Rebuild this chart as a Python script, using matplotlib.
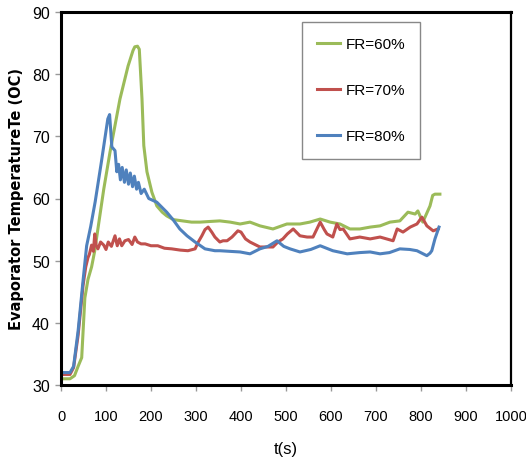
import matplotlib
matplotlib.use("Agg")
from matplotlib import pyplot as plt

# FR = 60 %
t_60 = [0, 20, 30, 38, 46, 53, 60, 68, 75, 82, 95, 109, 131, 149, 160, 164, 170, 174,
        180, 184, 191, 202, 213, 225, 235, 250, 270, 290, 309, 330, 353, 376, 398, 420,
        442, 471, 502, 531, 553, 576, 598, 620, 642, 664, 687, 709, 731, 753, 771, 787,
        793, 804, 812, 820, 826, 831, 842]
te_60 = [31, 31, 31.5, 33, 34.4, 44, 47, 49, 51.6, 55.1, 61.5, 67.5, 76, 81.3, 83.8, 84.4, 84.5, 84,
         76, 68.5, 64.3, 61, 58.8, 57.8, 57.2, 56.6, 56.4, 56.2, 56.2, 56.3, 56.4, 56.2, 55.9, 56.2,
         55.6, 55.1, 55.9, 55.9, 56.2, 56.7, 56.2, 55.9, 55.1, 55.1, 55.4, 55.6, 56.2, 56.4, 57.8, 57.5,
         58, 56.2, 57.5, 58.8, 60.5, 60.7, 60.7]

# FR = 70 %
t_70 = [0, 20, 28, 38, 49, 55, 60, 63, 68, 72, 75, 78, 82, 88, 95, 100, 105, 112, 120, 125,
        130, 135, 142, 150, 158, 164, 170, 178, 187, 200, 215, 230, 246, 265, 282, 298, 305,
        313, 320, 327, 335, 342, 353, 360, 369, 380, 393, 400, 410, 420, 442, 471, 482, 493,
        503, 516, 531, 547, 560, 568, 576, 585, 591, 604, 613, 620, 627, 642, 664, 687, 709,
        738, 747, 760, 776, 791, 802, 813, 827, 838]
te_70 = [31.7, 31.7, 32.8, 38, 46, 49, 50.5, 51, 52.5, 51.5, 54.3, 52.5, 51.9, 53, 52.5, 51.8, 53, 52.3, 54, 52.4,
         53.5, 52.4, 53.2, 53.4, 52.6, 53.8, 53, 52.7, 52.7, 52.4, 52.4, 52, 51.9, 51.7, 51.6, 51.9, 53,
         54, 55, 55.4, 54.6, 53.8, 53, 53.2, 53.2, 53.8, 54.8, 54.6, 53.5, 53, 52.2, 52.2, 53, 53.5,
         54.3, 55.1, 54, 53.8, 53.8, 55, 56.2, 55, 54.3, 53.8, 55.9, 55, 55.1, 53.5, 53.8, 53.5, 53.8,
         53.2, 55.1, 54.6, 55.4, 55.9, 57, 55.6, 54.8, 55.1]

# FR = 80 %
t_80 = [0, 20, 28, 38, 49, 57, 66, 76, 90, 104, 108, 113, 120, 124, 128, 132, 136, 141, 145,
        150, 154, 159, 163, 168, 172, 178, 185, 195, 213, 235, 250, 264, 280, 298, 320, 342,
        353, 375, 398, 420, 442, 460, 480, 495, 509, 531, 555, 576, 590, 604, 636, 664, 687,
        709, 730, 753, 775, 791, 813, 820, 824, 831, 840]
te_80 = [32, 32, 33, 38.7, 46.8, 52.4, 55.5, 59.5, 66, 72.8, 73.5, 68.3, 67.7, 64.3, 65.5, 63, 65, 62.6, 64.6,
         62.3, 64.1, 61.9, 63.6, 61.5, 62.6, 60.8, 61.5, 60, 59.4, 57.8, 56.5, 55.1, 54, 53, 51.9, 51.6,
         51.6, 51.5, 51.4, 51.1, 51.9, 52.3, 53.2, 52.3, 51.9, 51.4, 51.8, 52.4, 52, 51.6, 51.1, 51.3, 51.4,
         51.1, 51.3, 51.9, 51.8, 51.6, 50.8, 51.2, 51.6, 53.5, 55.4]

x_ticks = [0, 100, 200, 300, 400, 500, 600, 700, 800, 900, 1000]
y_ticks = [30, 40, 50, 60, 70, 80, 90]

sans = ["Liberation Sans", "DejaVu Sans"]

fig = plt.figure(figsize=(5.26, 4.64), dpi=100)
ax = fig.add_axes([61 / 526, 1 - 386 / 464, 450 / 526, 373 / 464])

ax.plot(t_60, te_60, color="#9BBB59", lw=2.2, label="FR=60%")
ax.plot(t_70, te_70, color="#C0504D", lw=2.2, label="FR=70%")
ax.plot(t_80, te_80, color="#4F81BD", lw=2.2, label="FR=80%")

ax.set_xlim(0, 1000)
ax.set_ylim(30, 90)
ax.set_xticks(x_ticks)
ax.set_yticks(y_ticks)
ax.set_xticklabels([str(v) for v in x_ticks], family=sans, fontsize=10.5)
ax.set_yticklabels([str(v) for v in y_ticks], family=sans, fontsize=11.5)
ax.tick_params(axis="x", direction="out", length=4, width=1, color="#999999", pad=13)
ax.tick_params(axis="y", direction="out", length=4, width=1, color="#999999", pad=4)

for side in ["left", "bottom", "top"]:
    ax.spines[side].set_linewidth(2.2)
ax.spines["right"].set_linewidth(1.6)

ax.set_xlabel("t(s)", family=sans, fontsize=12, labelpad=13)
ax.set_ylabel("Evaporator TemperatureTe (OC)", fontsize=10.5, fontweight="bold", labelpad=6)

leg = ax.legend(loc="upper left", bbox_to_anchor=(302 / 526, 1 - 23 / 464),
                bbox_transform=fig.transFigure, prop={"family": sans, "size": 11},
                frameon=True, fancybox=False, framealpha=1, edgecolor="#888888",
                handlelength=1.5, handletextpad=0.35, labelspacing=2.1, borderpad=1.0,
                borderaxespad=0)
leg.get_frame().set_linewidth(1)

fig.savefig("out.png", dpi=100)
